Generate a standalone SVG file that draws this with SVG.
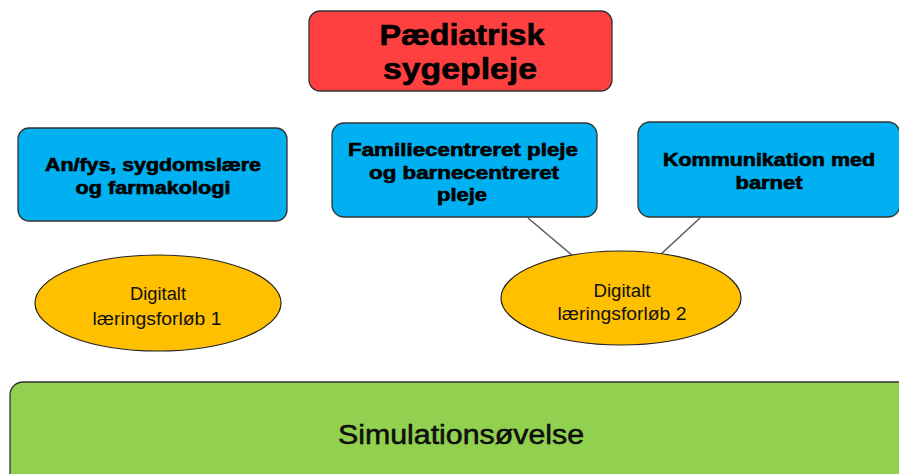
<svg xmlns="http://www.w3.org/2000/svg" width="899" height="474" viewBox="0 0 899 474">
<style>
.box{stroke:#333;stroke-width:1.3}
.blue{fill:#00B0F0}
.ell{fill:#FFC000;stroke:#222;stroke-width:1.2}
.b{font-family:"Liberation Sans",Arial,sans-serif;font-weight:bold;fill:#000;stroke:#000;stroke-width:0.6;text-anchor:middle}
.r{font-family:"Liberation Sans",Arial,sans-serif;fill:#111;text-anchor:middle}
.conn{stroke:#595959;stroke-width:1.5;fill:none}
</style>
<rect width="899" height="474" fill="#fff"/>
<g id="connectors">
<line class="conn" x1="528" y1="218" x2="573" y2="256"/>
<line class="conn" x1="700" y1="218" x2="660" y2="255"/>
</g>
<g id="n-paediatrisk">
<rect class="box" x="309" y="11" width="303" height="80" rx="11" fill="#FF4040"/>
<text class="b" x="462" y="45" font-size="29" textLength="165" lengthAdjust="spacingAndGlyphs">Pædiatrisk</text>
<text class="b" x="460" y="79" font-size="29" textLength="154" lengthAdjust="spacingAndGlyphs">sygepleje</text>
</g>
<g id="n-anfys">
<rect class="box blue" x="18" y="128" width="269" height="93" rx="11"/>
<text class="b" x="153" y="171" font-size="17.5" textLength="216" lengthAdjust="spacingAndGlyphs">An/fys, sygdomslære</text>
<text class="b" x="153" y="194" font-size="17.5" textLength="155" lengthAdjust="spacingAndGlyphs">og farmakologi</text>
</g>
<g id="n-familie">
<rect class="box blue" x="332" y="123" width="265" height="94" rx="12"/>
<text class="b" x="463" y="156" font-size="17.5" textLength="230" lengthAdjust="spacingAndGlyphs">Familiecentreret pleje</text>
<text class="b" x="464" y="179" font-size="17.5" textLength="190" lengthAdjust="spacingAndGlyphs">og barnecentreret</text>
<text class="b" x="462" y="201" font-size="17.5" textLength="50" lengthAdjust="spacingAndGlyphs">pleje</text>
</g>
<g id="n-kommunikation">
<rect class="box blue" x="638" y="122" width="262" height="95" rx="12"/>
<text class="b" x="769" y="166" font-size="17.5" textLength="212" lengthAdjust="spacingAndGlyphs">Kommunikation med</text>
<text class="b" x="769" y="189" font-size="17.5" textLength="67" lengthAdjust="spacingAndGlyphs">barnet</text>
</g>
<g id="n-digitalt1">
<ellipse class="ell" cx="158" cy="303" rx="123" ry="48"/>
<text class="r" x="158" y="300" font-size="18" textLength="56" lengthAdjust="spacingAndGlyphs">Digitalt</text>
<text class="r" x="157" y="325" font-size="18" textLength="129" lengthAdjust="spacingAndGlyphs">læringsforløb 1</text>
</g>
<g id="n-digitalt2">
<ellipse class="ell" cx="621" cy="298" rx="120" ry="47"/>
<text class="r" x="622" y="297" font-size="18" textLength="57" lengthAdjust="spacingAndGlyphs">Digitalt</text>
<text class="r" x="622" y="320" font-size="18" textLength="129" lengthAdjust="spacingAndGlyphs">læringsforløb 2</text>
</g>
<g id="n-simulation">
<rect class="box" x="10" y="382" width="905" height="110" rx="13" fill="#92D050"/>
<text class="r" x="461" y="444" font-size="27" fill="#000" stroke="#000" stroke-width="0.5" textLength="246" lengthAdjust="spacingAndGlyphs">Simulationsøvelse</text>
</g>
</svg>
